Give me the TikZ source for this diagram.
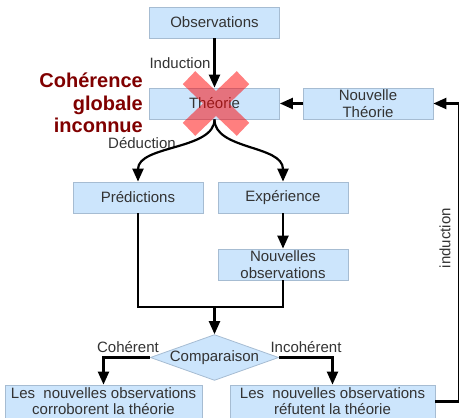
\documentclass[tikz,border=0pt]{standalone}
\usepackage{fontspec}
\setmainfont{Liberation Sans}
\usetikzlibrary{arrows.meta, shapes.geometric}
\definecolor{boxfill}{HTML}{CCE5FC}
\definecolor{boxline}{HTML}{A6BCD2}
\definecolor{darkred}{HTML}{800000}
\definecolor{textgray}{HTML}{333333}

\begin{document}
\begin{tikzpicture}[x=1pt, y=-1pt]


\tikzstyle{box_style} = [rectangle, draw=boxline, fill=boxfill, line width=0.8, minimum width=130, minimum height=31, inner sep=0pt, align=center, text=textgray, font=\fontsize{15}{17}\selectfont]

\tikzstyle{diamond_style} = [diamond, draw=boxline, fill=boxfill, line width=0.8, aspect=2.8, minimum width=127, minimum height=45, inner sep=0pt, text=textgray, font=\fontsize{15}{17}\selectfont]

\tikzstyle{label_style} = [inner sep=0pt, text=textgray, font=\fontsize{15}{17}\selectfont]

\tikzstyle{arrow_style} = [draw=black, line width=2.2, -{Triangle[length=13pt, width=11pt]}]

\tikzstyle{line_style} = [draw=black, line width=2.2]

\tikzstyle{cross_style} = [draw=red, line width=18, opacity=0.5]


\useasboundingbox (0,0) rectangle (459,418);

\node[box_style] (obs) at (214.5, 22.5) {Observations};
\node[box_style] (theorie) at (214.5, 103.5) {Théorie};
\node[box_style] (nouv) at (368, 103.5) {Nouvelle\\Théorie};
\node[box_style] (pred) at (138, 197.5) {Prédictions};
\node[box_style] (exp) at (283, 197.5) {Expérience};
\node[box_style] (nobs) at (283, 264.5) {Nouvelles\\observations};
\node[diamond_style] (comp) at (214.5, 357.5) {Comparaison};
\node[box_style, minimum width=197, minimum height=33, font=\fontsize{15}{16}\selectfont] (corr) at (103.5, 401.5) {Les\ \ nouvelles observations\\corroborent la théorie};
\node[box_style, minimum width=205, minimum height=33, font=\fontsize{15}{16}\selectfont] (refu) at (332.5, 401.5) {Les\ \ nouvelles observations\\réfutent la théorie};

\node[label_style] (ind) at (180, 63) {Induction};
\node[label_style] (ded) at (142, 143) {Déduction};
\node[label_style] (coh) at (128, 347) {Cohérent};
\node[label_style] (incoh) at (306, 347) {Incohérent};
\node[label_style, rotate=90] (retour) at (445, 238) {induction};
\node[inner sep=0pt, anchor=east, align=right, text=darkred, font=\fontsize{20}{22.5}\selectfont\bfseries] (coherence) at (143, 103) {Cohérence\\globale\hspace*{6pt}\\inconnue};

\coordinate (join) at (214.5, 307);
\coordinate (fb) at (459.5, 103.5);

\coordinate (x1) at (189, 77.7);
\coordinate (x2) at (243, 129.3);
\coordinate (x3) at (243, 77.7);
\coordinate (x4) at (189, 129.3);


\draw[arrow_style]  (obs) -- (theorie);
\draw[arrow_style]  (nouv) -- (theorie);
\draw[arrow_style]  (theorie.south) .. controls (214.5, 150) and (138, 145) .. (pred.north);
\draw[arrow_style]  (theorie.south) .. controls (214.5, 150) and (283, 145) .. (exp.north);
\draw[arrow_style]  (exp) -- (nobs);
\draw[line_style]  (pred.south) |- (join) -| (nobs.south);
\draw[arrow_style]  (join) -- (comp.north);
\draw[arrow_style]  (comp.west) -| (corr.north);
\draw[arrow_style]  (comp.east) -| (refu.north);
\draw[arrow_style]  (refu.east) -| (fb) -- (nouv.east);

\draw[cross_style]  (x1) -- (x2) (x3) -- (x4);


\end{tikzpicture}
\end{document}
